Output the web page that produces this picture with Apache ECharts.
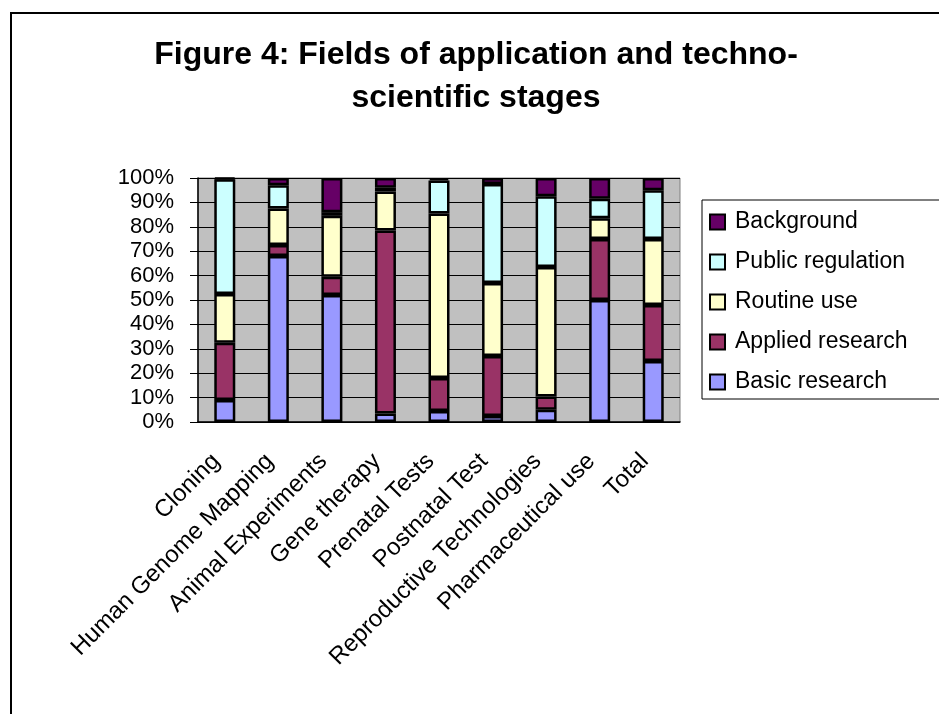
<!DOCTYPE html>
<html style="height: 100%">
<head>
<meta charset="utf-8">
<script src="https://cdn.jsdelivr.net/npm/echarts@6/dist/echarts.min.js"></script>
</head>
<body style="height: 100%; margin: 0; background: #fff">
<div id="container" style="width: 939px; height: 714px;"></div>
<script type="text/javascript">
var categories = ['Cloning', 'Human Genome Mapping', 'Animal Experiments', 'Gene therapy', 'Prenatal Tests',
    'Postnatal Test', 'Reproductive Technologies', 'Pharmaceutical use', 'Total'];
// percentages
var basicResearch    = [9,   68,  52,  3.5, 4.5,  2.5,  5,   50,  25];
var appliedResearch  = [23.5, 4.5, 7.5, 75, 13.5, 24.5, 5.5, 25,  23];
var routineUse       = [20,  15,  25,  16,  67.5, 30,   53,  8.5, 27];
var publicRegulation = [47,  9.5, 1.5, 1.5, 13.5, 40.5, 29,  8,   20];
var background       = [0.5, 3,   14,  4,   1,    2.5,  7.5, 8.5, 5];
var legendOrder = ['Background', 'Public regulation', 'Routine use', 'Applied research', 'Basic research'];

var font = 'Arial, "Liberation Sans", sans-serif';
var chart = echarts.init(document.getElementById('container'));

function stackSeries(name, data, color) {
    return {
        name: name,
        type: 'bar',
        stack: 'all',
        barWidth: 21,
        data: data,
        itemStyle: { color: color, borderColor: '#000', borderWidth: 2.5 }
    };
}

var option = {
    backgroundColor: '#fff',
    animation: false,
    title: {
        text: 'Figure 4: Fields of application and techno-\nscientific stages',
        left: 471,
        top: 29,
        textAlign: 'center',
        textStyle: { fontFamily: font, fontSize: 32, fontWeight: 'bold', color: '#000', lineHeight: 43 }
    },
    graphic: [{
        type: 'rect',
        shape: { x: 11, y: 13, width: 1000, height: 800 },
        style: { fill: 'none', stroke: '#000', lineWidth: 2 },
        silent: true
    }],
    legend: {
        orient: 'vertical',
        left: 702,
        top: 200,
        data: legendOrder,
        icon: 'rect',
        itemWidth: 15,
        itemHeight: 15,
        itemGap: 16,
        padding: [10, 300, 5, 7],
        borderColor: '#000',
        borderWidth: 1,
        backgroundColor: '#fff',
        textStyle: { fontFamily: font, fontSize: 23, color: '#000', lineHeight: 24, padding: [0, 0, 0, 5] }
    },
    grid: {
        left: 198,
        right: 259,
        top: 178,
        bottom: 292,
        show: true,
        backgroundColor: '#c0c0c0',
        borderColor: '#808080',
        borderWidth: 1
    },
    xAxis: {
        type: 'category',
        data: categories,
        axisLine: { lineStyle: { color: '#000', width: 1.5 } },
        axisTick: { length: 8, lineStyle: { color: '#000' } },
        axisLabel: {
            rotate: 45, interval: 0, margin: 44, verticalAlign: 'bottom',
            fontFamily: font, fontSize: 24, color: '#000'
        }
    },
    yAxis: {
        type: 'value',
        min: 0,
        max: 100,
        interval: 10,
        axisLine: { show: true, lineStyle: { color: '#000', width: 1.5 } },
        axisTick: { show: true, length: 8, lineStyle: { color: '#000' } },
        splitLine: { lineStyle: { color: '#000', width: 1 } },
        axisLabel: { formatter: '{value}%', margin: 24, fontFamily: font, fontSize: 22, color: '#000' }
    },
    series: [
        stackSeries('Basic research', basicResearch, '#9999ff'),
        stackSeries('Applied research', appliedResearch, '#993366'),
        stackSeries('Routine use', routineUse, '#ffffcc'),
        stackSeries('Public regulation', publicRegulation, '#ccffff'),
        stackSeries('Background', background, '#660066')
    ]
};

chart.setOption(option, true);
</script>
</body>
</html>
